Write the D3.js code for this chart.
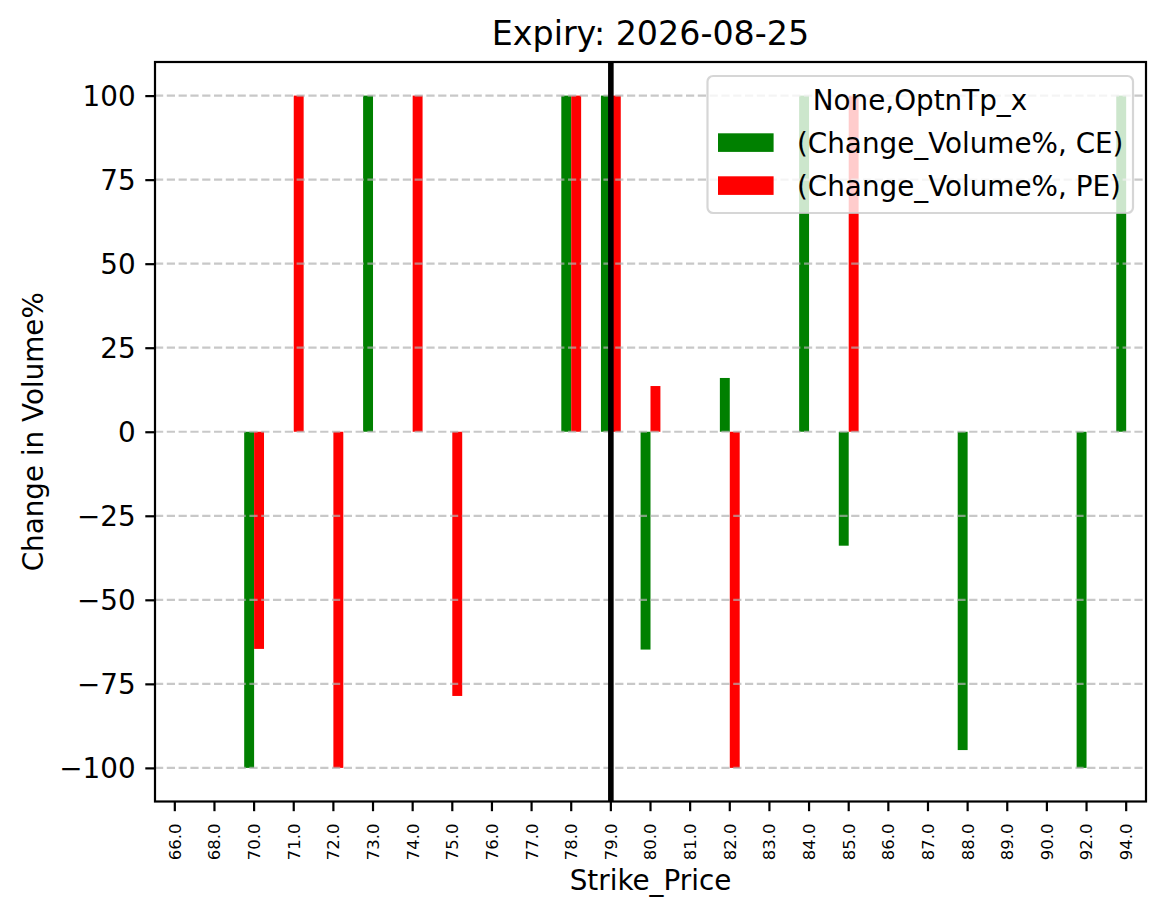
<!DOCTYPE html>
<html lang="en">
<head>
  <meta charset="UTF-8">
  <title>Expiry: 2026-08-25</title>
  <script src="https://d3js.org/d3.v7.min.js"></script>
  <style>
    body { margin: 0; background: #fff; }
    svg { display: block; font-family: 'DejaVu Sans', sans-serif; }
  </style>
</head>
<body>
  <div class="chart"></div>
  <script>
    const strikes = ['66.0', '68.0', '70.0', '71.0', '72.0', '73.0', '74.0', '75.0', '76.0', '77.0', '78.0', '79.0',
      '80.0', '81.0', '82.0', '83.0', '84.0', '85.0', '86.0', '87.0', '88.0', '89.0', '90.0', '92.0', '94.0'];
    const ceChange = [null, null, -100, null, null, 100, null, null, null, null, 100, 100,
      -64.8, null, 16.0, null, 100, -33.9, null, null, -94.7, null, null, -100, 100];
    const peChange = [null, null, -64.6, 100, -100, null, 100, -78.6, null, null, 100, 100,
      13.6, null, -100, null, null, 100, null, null, null, null, null, null, null];
    const yTicks = [-100, -75, -50, -25, 0, 25, 50, 75, 100];
    const spotStrike = '79.0';
    const seriesNames = ['(Change_Volume%, CE)', '(Change_Volume%, PE)'];
    const seriesColors = ['green', 'red'];

    const W = 1166, H = 918;
    const margin = { top: 62, right: 20, bottom: 116.5, left: 155 };
    const plotW = W - margin.left - margin.right;
    const plotH = H - margin.top - margin.bottom;

    const svg = d3.select('.chart').append('svg').attr('width', W).attr('height', H);
    const g = svg.append('g').attr('transform', `translate(${margin.left},${margin.top})`);

    const x = d3.scaleBand().domain(strikes).range([0, plotW]).padding(0);
    const y = d3.scaleLinear().domain([-110, 110]).range([plotH, 0]);
    const bw = x.bandwidth() * 0.25;

    const rows = strikes.map((s, i) => ({ s, ce: ceChange[i], pe: peChange[i] }));

    // bars
    [['ce', -1], ['pe', 0]].forEach(([key, off], k) => {
      g.append('g').selectAll('rect')
        .data(rows.filter(d => d[key] != null))
        .join('rect')
        .attr('x', d => x(d.s) + x.bandwidth() / 2 + off * bw)
        .attr('width', bw)
        .attr('y', d => y(Math.max(0, d[key])))
        .attr('height', d => Math.abs(y(d[key]) - y(0)))
        .attr('fill', seriesColors[k]);
    });

    // grid (drawn over bars like matplotlib)
    g.append('g').selectAll('line').data(yTicks).join('line')
      .attr('x1', 0).attr('x2', plotW)
      .attr('y1', d => y(d)).attr('y2', d => y(d))
      .attr('stroke', '#b0b0b0').attr('stroke-opacity', 0.7)
      .attr('stroke-width', 2.2).attr('stroke-dasharray', '8.2,3.6');

    // spot line
    const sx = x(spotStrike) + x.bandwidth() / 2;
    g.append('line').attr('x1', sx).attr('x2', sx).attr('y1', 0).attr('y2', plotH)
      .attr('stroke', 'black').attr('stroke-width', 5.6);

    // axes
    const xAxis = g.append('g').attr('transform', `translate(0,${plotH})`)
      .call(d3.axisBottom(x).tickSizeInner(9.7).tickSizeOuter(0).tickPadding(9.7));
    xAxis.select('.domain').remove();
    xAxis.selectAll('line').attr('stroke-width', 2.2);
    xAxis.selectAll('text')
      .attr('font-size', 16.5).attr('font-family', 'DejaVu Sans')
      .attr('text-anchor', 'end')
      .attr('transform', 'translate(0,22) rotate(-90)')
      .attr('x', 0).attr('y', 0).attr('dy', '0.36em');

    const yAxis = g.append('g')
      .call(d3.axisLeft(y).tickValues(yTicks).tickSizeInner(9.7).tickSizeOuter(0).tickPadding(9.7));
    yAxis.select('.domain').remove();
    yAxis.selectAll('line').attr('stroke-width', 2.2);
    yAxis.selectAll('text').attr('font-size', 27.8).attr('font-family', 'DejaVu Sans').attr('dy', '0.36em');

    // frame
    g.append('rect').attr('x', 0).attr('y', 0).attr('width', plotW).attr('height', plotH)
      .attr('fill', 'none').attr('stroke', 'black').attr('stroke-width', 2.2);

    // titles
    svg.append('text').attr('x', margin.left + plotW / 2).attr('y', 45).attr('text-anchor', 'middle')
      .attr('font-size', 33.3).text('Expiry: 2026-08-25');
    svg.append('text').attr('x', margin.left + plotW / 2).attr('y', 890).attr('text-anchor', 'middle')
      .attr('font-size', 27.8).text('Strike_Price');
    svg.append('text').attr('transform', `translate(43,${margin.top + plotH / 2}) rotate(-90)`)
      .attr('text-anchor', 'middle').attr('font-size', 27.8).text('Change in Volume%');

    // legend
    const lg = svg.append('g').attr('transform', 'translate(707.5,76)');
    lg.append('rect').attr('width', 425.5).attr('height', 137).attr('rx', 5.6).attr('ry', 5.6)
      .attr('fill', 'white').attr('fill-opacity', 0.8)
      .attr('stroke', '#cccccc').attr('stroke-opacity', 0.8).attr('stroke-width', 2.2);
    lg.append('text').attr('x', 212.5).attr('y', 33.5).attr('text-anchor', 'middle')
      .attr('font-size', 27.8).text('None,OptnTp_x');
    seriesNames.forEach((name, i) => {
      const row = lg.append('g').attr('transform', `translate(0,${57 + i * 43})`);
      row.append('rect').attr('x', 10.5).attr('y', 0.3).attr('width', 55.6).attr('height', 18.6)
        .attr('fill', seriesColors[i]);
      row.append('text').attr('x', 89.5).attr('y', 19.5).attr('font-size', 27.8).text(name);
    });
  </script>
</body>
</html>
